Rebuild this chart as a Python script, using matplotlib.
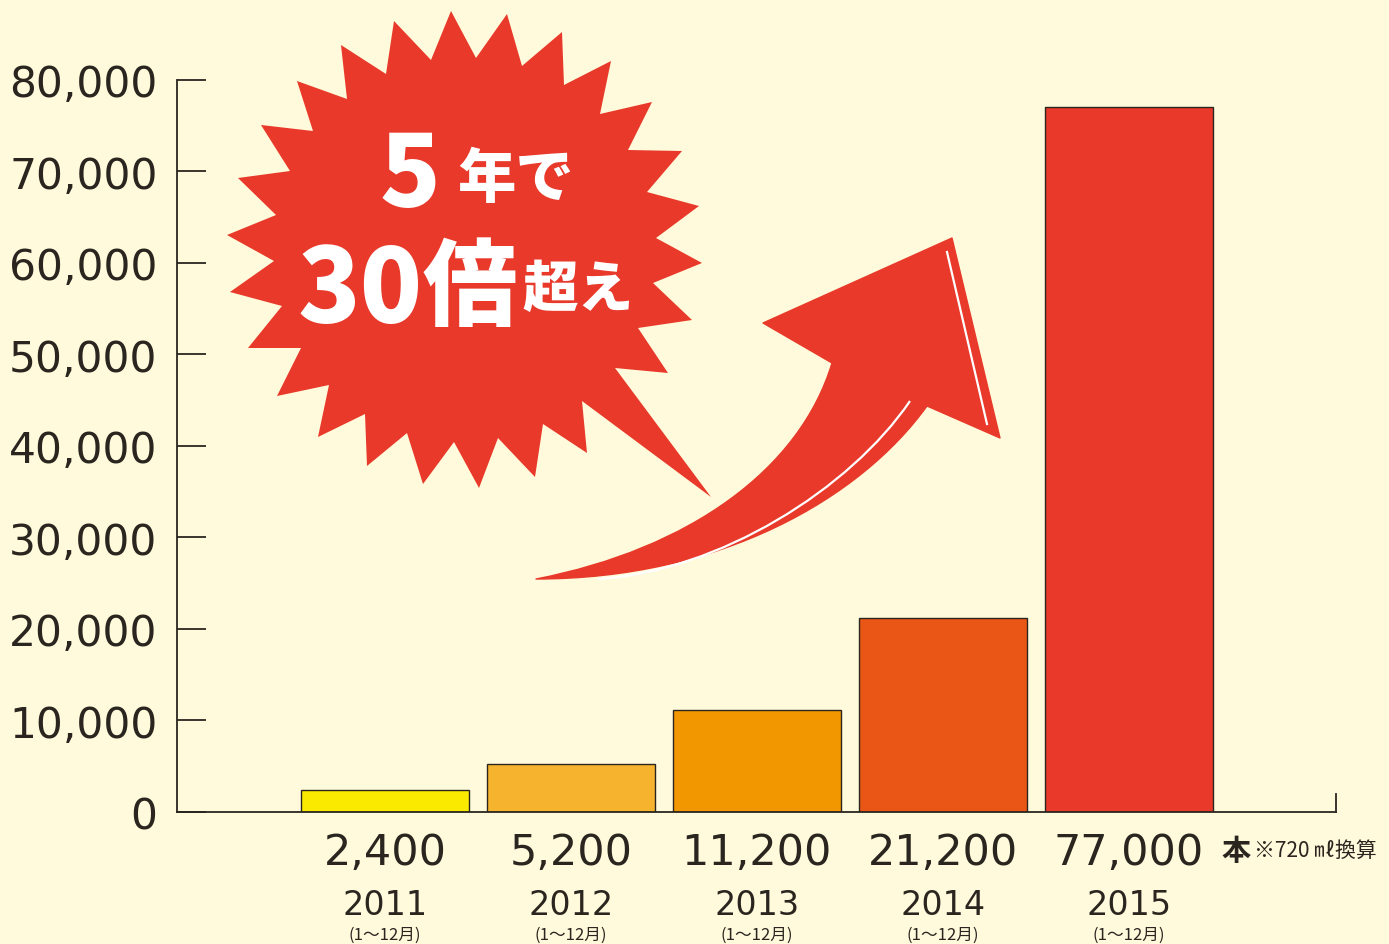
import matplotlib
matplotlib.use('Agg')
import matplotlib.pyplot as plt
from matplotlib.path import Path
from matplotlib.patches import PathPatch, Polygon

plt.rcParams['font.family'] = ['DejaVu Sans', 'Noto Sans CJK JP']

# data
years = ['2011', '2012', '2013', '2014', '2015']
bottles = [2400, 5200, 11200, 21200, 77000]
value_labels = ['2,400', '5,200', '11,200', '21,200', '77,000']
months = '(1〜12月)'
y_ticks = [0, 10000, 20000, 30000, 40000, 50000, 60000, 70000, 80000]
bar_colors = ['#F9EA00', '#F6B42E', '#F39700', '#EA5616', '#E8392A']

bg = '#FFFADB'
ink = '#2A251F'
red = '#E8392A'

fig = plt.figure(figsize=(13.89, 9.45), dpi=100, facecolor=bg)
ax = fig.add_axes([0.1274, 0.1397, 0.8344, 0.7746])
ax.set_facecolor(bg)

x = list(range(len(years)))
ax.bar(x, bottles, width=0.9, color=bar_colors, edgecolor=ink, linewidth=1.0, zorder=2)

ax.set_xlim(-1.118, 5.113)
ax.set_ylim(0, 80000)
ax.set_yticks(y_ticks)
ax.set_yticklabels(['{:,}'.format(v) for v in y_ticks], fontsize=30.5, color=ink)
ax.tick_params(axis='y', direction='in', length=21, width=1.3, color=ink, pad=14)

ax.set_xticks(x)
ax.set_xticklabels(value_labels, fontsize=31, color=ink,
                   family=['Liberation Sans Narrow', 'DejaVu Sans'])
ax.tick_params(axis='x', length=0, pad=14)

for s in ['top', 'right']:
    ax.spines[s].set_visible(False)
for s in ['left', 'bottom']:
    ax.spines[s].set_color(ink)
    ax.spines[s].set_linewidth(1.3)
# small mark at the right end of the x axis
ax.plot([1, 1], [0, 0.025], transform=ax.transAxes, color=ink, lw=1.3, clip_on=False)

trans = ax.get_xaxis_transform()
for i, yr in enumerate(years):
    ax.text(i, -0.127, yr, transform=trans, ha='center', va='center', fontsize=24,
            color=ink, family=['Liberation Sans Narrow', 'DejaVu Sans'])
    ax.text(i, -0.167, months, transform=trans, ha='center', va='center', fontsize=12,
            color=ink, family=['Noto Sans CJK JP'])

ax.text(4.50, -0.052, '本', transform=trans, ha='left', va='center', fontsize=21,
        color=ink, fontweight='bold', family=['Noto Sans CJK JP'])
ax.text(4.67, -0.052, '※720 ㎖換算', transform=trans, ha='left', va='center', fontsize=15,
        color=ink, family=['Noto Sans CJK JP', 'DejaVu Sans'])

# decorations drawn in pixel space of the picture
deco = fig.add_axes([0, 0, 1, 1], facecolor='none')
deco.set_xlim(0, 1389)
deco.set_ylim(945, 0)
deco.axis('off')

burst = [(451, 12), (476, 59), (507, 15), (522, 67), (562, 33), (564, 86),
         (611, 62), (600, 115), (652, 103), (628, 151), (682, 152), (647, 193),
         (699, 207), (656, 239), (702, 264), (653, 284), (692, 321), (638, 329),
         (668, 374), (615, 369), (711, 498), (582, 402), (587, 454), (543, 425),
         (535, 478), (498, 439), (479, 489), (454, 443), (423, 485), (407, 434),
         (367, 467), (365, 415), (318, 438), (329, 386), (277, 397), (301, 349),
         (248, 349), (282, 307), (230, 293), (274, 262), (227, 236), (276, 216),
         (238, 179), (290, 172), (261, 126), (313, 132), (297, 82), (347, 100),
         (341, 46), (386, 75), (394, 22), (431, 61)]
deco.add_patch(Polygon(burst, closed=True, facecolor=red, edgecolor='none'))

jp = ['Noto Sans CJK JP']
deco.text(410, 178, '5', ha='center', va='center', fontsize=72, color='white',
          fontweight='heavy', family=jp)
deco.text(516, 180, '年で', ha='center', va='center', fontsize=42, color='white',
          fontweight='heavy', family=jp)
deco.text(360, 292, '30', ha='center', va='center', fontsize=74, color='white',
          fontweight='heavy', family=jp)
deco.text(470, 290, '倍', ha='center', va='center', fontsize=68, color='white',
          fontweight='heavy', family=jp)
deco.text(578, 290, '超え', ha='center', va='center', fontsize=40, color='white',
          fontweight='heavy', family=jp)

arrow_verts = [(536, 580),
               (690, 550), (800, 470), (832, 364),
               (763, 324), (952, 239), (1000, 439), (927, 407),
               (860, 500), (720, 580), (536, 580),
               (536, 580)]
arrow_codes = [Path.MOVETO,
               Path.CURVE4, Path.CURVE4, Path.CURVE4,
               Path.LINETO, Path.LINETO, Path.LINETO, Path.LINETO,
               Path.CURVE4, Path.CURVE4, Path.CURVE4,
               Path.CLOSEPOLY]
deco.add_patch(PathPatch(Path(arrow_verts, arrow_codes), facecolor=red,
                         edgecolor=red, linewidth=1, joinstyle='round'))

shine = Path([(910, 402), (850, 490), (720, 572), (598, 580)],
             [Path.MOVETO, Path.CURVE4, Path.CURVE4, Path.CURVE4])
deco.add_patch(PathPatch(shine, facecolor='none', edgecolor='white', linewidth=1.6))
deco.plot([947, 987], [253, 425], color='white', lw=1.6)

fig.savefig('out.png', dpi=100, facecolor=bg)
